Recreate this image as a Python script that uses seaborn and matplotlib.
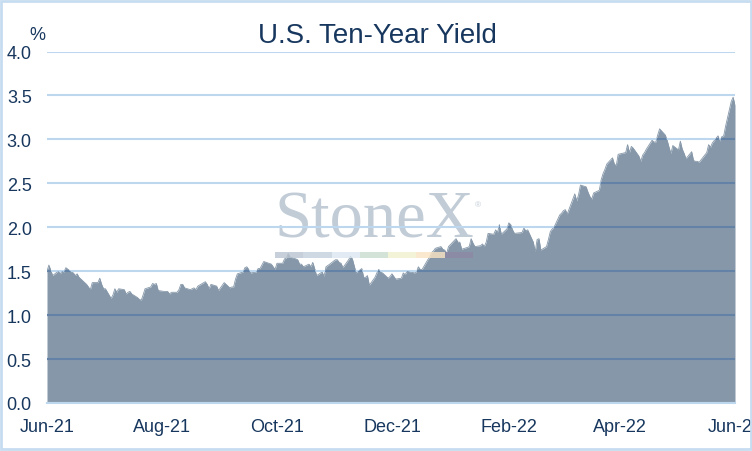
import numpy as np
import pandas as pd
import matplotlib
matplotlib.use("Agg")
import matplotlib.pyplot as plt
from matplotlib.patches import Rectangle
import seaborn as sns

# ---------------------------------------------------------------------------
# data: daily US 10y yield, 15-Jun-2021 .. 15-Jun-2022
# ---------------------------------------------------------------------------
start_date = "2021-06-15"
end_date = "2022-06-15"
holidays = ["2021-07-05", "2021-09-06", "2021-10-11", "2021-11-11", "2021-11-25",
            "2021-12-24", "2022-01-17", "2022-02-21", "2022-04-15", "2022-05-30"]

jun21 = [1.50, 1.57, 1.51, 1.45, 1.50, 1.47, 1.50, 1.49, 1.54, 1.49, 1.48, 1.45]
jul21 = [1.47, 1.43, 1.35, 1.32, 1.29, 1.37, 1.37, 1.42, 1.35, 1.30, 1.30, 1.19,
         1.23, 1.30, 1.26, 1.30, 1.29, 1.24, 1.26, 1.27, 1.24]
aug21 = [1.20, 1.18, 1.17, 1.23, 1.30, 1.32, 1.36, 1.35, 1.36, 1.28, 1.27, 1.27,
         1.27, 1.24, 1.26, 1.26, 1.29, 1.35, 1.35, 1.31, 1.29, 1.30]
sep21 = [1.31, 1.29, 1.33, 1.38, 1.35, 1.30, 1.35, 1.33, 1.28, 1.31, 1.34, 1.37,
         1.31, 1.32, 1.32, 1.41, 1.47, 1.49, 1.54, 1.55, 1.52]
oct21 = [1.48, 1.49, 1.53, 1.53, 1.57, 1.61, 1.58, 1.55, 1.52, 1.59, 1.59, 1.64,
         1.65, 1.70, 1.66, 1.64, 1.63, 1.58, 1.58, 1.55]
nov21 = [1.58, 1.55, 1.60, 1.53, 1.45, 1.49, 1.44, 1.55, 1.58, 1.63, 1.63, 1.60,
         1.59, 1.54, 1.63, 1.67, 1.64, 1.48, 1.53, 1.43]
dec21 = [1.43, 1.45, 1.34, 1.43, 1.48, 1.52, 1.49, 1.48, 1.42, 1.44, 1.47, 1.44,
         1.41, 1.42, 1.48, 1.46, 1.50, 1.48, 1.49, 1.55, 1.52, 1.52]
jan22 = [1.63, 1.66, 1.71, 1.73, 1.76, 1.78, 1.75, 1.74, 1.70, 1.78, 1.87, 1.83,
         1.83, 1.75, 1.77, 1.78, 1.87, 1.82, 1.78, 1.79]
feb22 = [1.81, 1.78, 1.83, 1.93, 1.92, 1.97, 1.94, 2.03, 1.92, 1.98, 2.05, 2.03,
         1.97, 1.93, 1.94, 1.99, 1.96, 1.97, 1.83]
mar22 = [1.72, 1.86, 1.87, 1.74, 1.78, 1.86, 1.95, 1.98, 2.00, 2.14, 2.16, 2.19,
         2.20, 2.15, 2.32, 2.38, 2.30, 2.37, 2.48, 2.46, 2.40, 2.35, 2.32]
apr22 = [2.39, 2.42, 2.54, 2.61, 2.66, 2.72, 2.79, 2.72, 2.70, 2.83, 2.85, 2.94,
         2.85, 2.92, 2.90, 2.81, 2.75, 2.82, 2.85, 2.89]
may22 = [2.99, 2.97, 2.97, 3.05, 3.12, 3.05, 2.99, 2.91, 2.84, 2.93, 2.88, 2.98,
         2.89, 2.84, 2.78, 2.86, 2.76, 2.75, 2.75, 2.74, 2.85]
jun22 = [2.94, 2.91, 2.96, 3.04, 2.98, 3.03, 3.04, 3.15, 3.43, 3.48, 3.39]

yields = (jun21 + jul21 + aug21 + sep21 + oct21 + nov21 + dec21
          + jan22 + feb22 + mar22 + apr22 + may22 + jun22)

tick_dates = ["2021-06-15", "2021-08-15", "2021-10-15", "2021-12-15",
              "2022-02-15", "2022-04-15", "2022-06-15"]
tick_labels = ["Jun-21", "Aug-21", "Oct-21", "Dec-21", "Feb-22", "Apr-22", "Jun-22"]
y_ticks = [0.0, 0.5, 1.0, 1.5, 2.0, 2.5, 3.0, 3.5, 4.0]

dates = pd.bdate_range(start_date, end_date)
dates = dates[~dates.isin(pd.to_datetime(holidays))]
df = pd.DataFrame({"date": dates, "yield": yields})

# ---------------------------------------------------------------------------
# style
# ---------------------------------------------------------------------------
sns.set_style("white")
plt.rcParams["font.family"] = ["Liberation Sans", "DejaVu Sans"]

navy = "#17375e"
area_col = "#8597a9"
light_blue = "#bdd7ee"
grid_on_area = "#6482a5"

fig = plt.figure(figsize=(7.52, 4.52), dpi=100)
ax = fig.add_axes([47 / 752, 48 / 452, 688 / 752, 351.5 / 452])

area = ax.fill_between(df["date"], df["yield"], color=area_col, lw=0, zorder=1)
sns.lineplot(data=df, x="date", y="yield", ax=ax, color=area_col, lw=0.6, zorder=1.5)

ax.set_xlim(pd.Timestamp(start_date), pd.Timestamp(end_date))
ax.set_ylim(0, 4)
ax.set_yticks(y_ticks)
ax.set_yticklabels([f"{v:.1f}" for v in y_ticks])
ax.set_xticks(pd.to_datetime(tick_dates))
ax.set_xticklabels(tick_labels)
ax.set_xlabel("")
ax.set_ylabel("")

# gridlines: light blue on white, darker where they cross the area
ax.set_axisbelow(False)
ax.grid(axis="y", color=light_blue, lw=1.5)
ax.grid(axis="x", visible=False)
area_path = area.get_paths()[0]
for y in y_ticks[1:]:
    ln = ax.axhline(y, color=grid_on_area, lw=1.6, zorder=2.6)
    ln.set_clip_path(area_path, ax.transData)

for side in ["top", "right", "left"]:
    ax.spines[side].set_visible(False)
ax.spines["bottom"].set_color(light_blue)
ax.spines["bottom"].set_linewidth(1.5)

ax.tick_params(axis="y", length=0, pad=11, labelsize=13, labelcolor=navy)
ax.tick_params(axis="x", length=4, width=1.5, color=light_blue, direction="out",
               pad=7, labelsize=13, labelcolor=navy)

# title and unit
fig.text(377 / 752, (452 - 43) / 452, "U.S. Ten-Year Yield", ha="center",
         va="baseline", fontsize=20, color=navy)
fig.text(29 / 752, (452 - 40) / 452, "%", ha="left", va="baseline",
         fontsize=13, color=navy)

# watermark
ax.text(374 / 752, (452 - 238) / 452, "StoneX", transform=fig.transFigure,
        ha="center", va="baseline", fontsize=48, family="Liberation Serif",
        color="#b6c3d0", alpha=0.85, zorder=2.2, clip_on=False)
ax.text(478 / 752, (452 - 207) / 452, "\u00ae", transform=fig.transFigure,
        ha="center", va="baseline", fontsize=6, color="#b6c3d0", alpha=0.85,
        zorder=2.2, clip_on=False)
bar_cols = ["#bac4d1", "#c4d0dc", "#dbe7f1", "#c8dcce", "#f0f0ce", "#fbe4c3", "#8e88a4"]
seg_w = 198 / 7
for i, c in enumerate(bar_cols):
    ax.add_patch(Rectangle(((275 + i * seg_w) / 752, (452 - 259) / 452),
                           seg_w / 752, 6.3 / 452, transform=fig.transFigure,
                           facecolor=c, edgecolor="none", alpha=0.8,
                           zorder=2.2, clip_on=False))

# light blue frame round the figure
fig.add_artist(Rectangle((1.5 / 752, 2 / 452), 749 / 752, 448 / 452,
                         transform=fig.transFigure, fill=False,
                         edgecolor="#c6ddf1", lw=2))

fig.savefig("out.png", dpi=100)
